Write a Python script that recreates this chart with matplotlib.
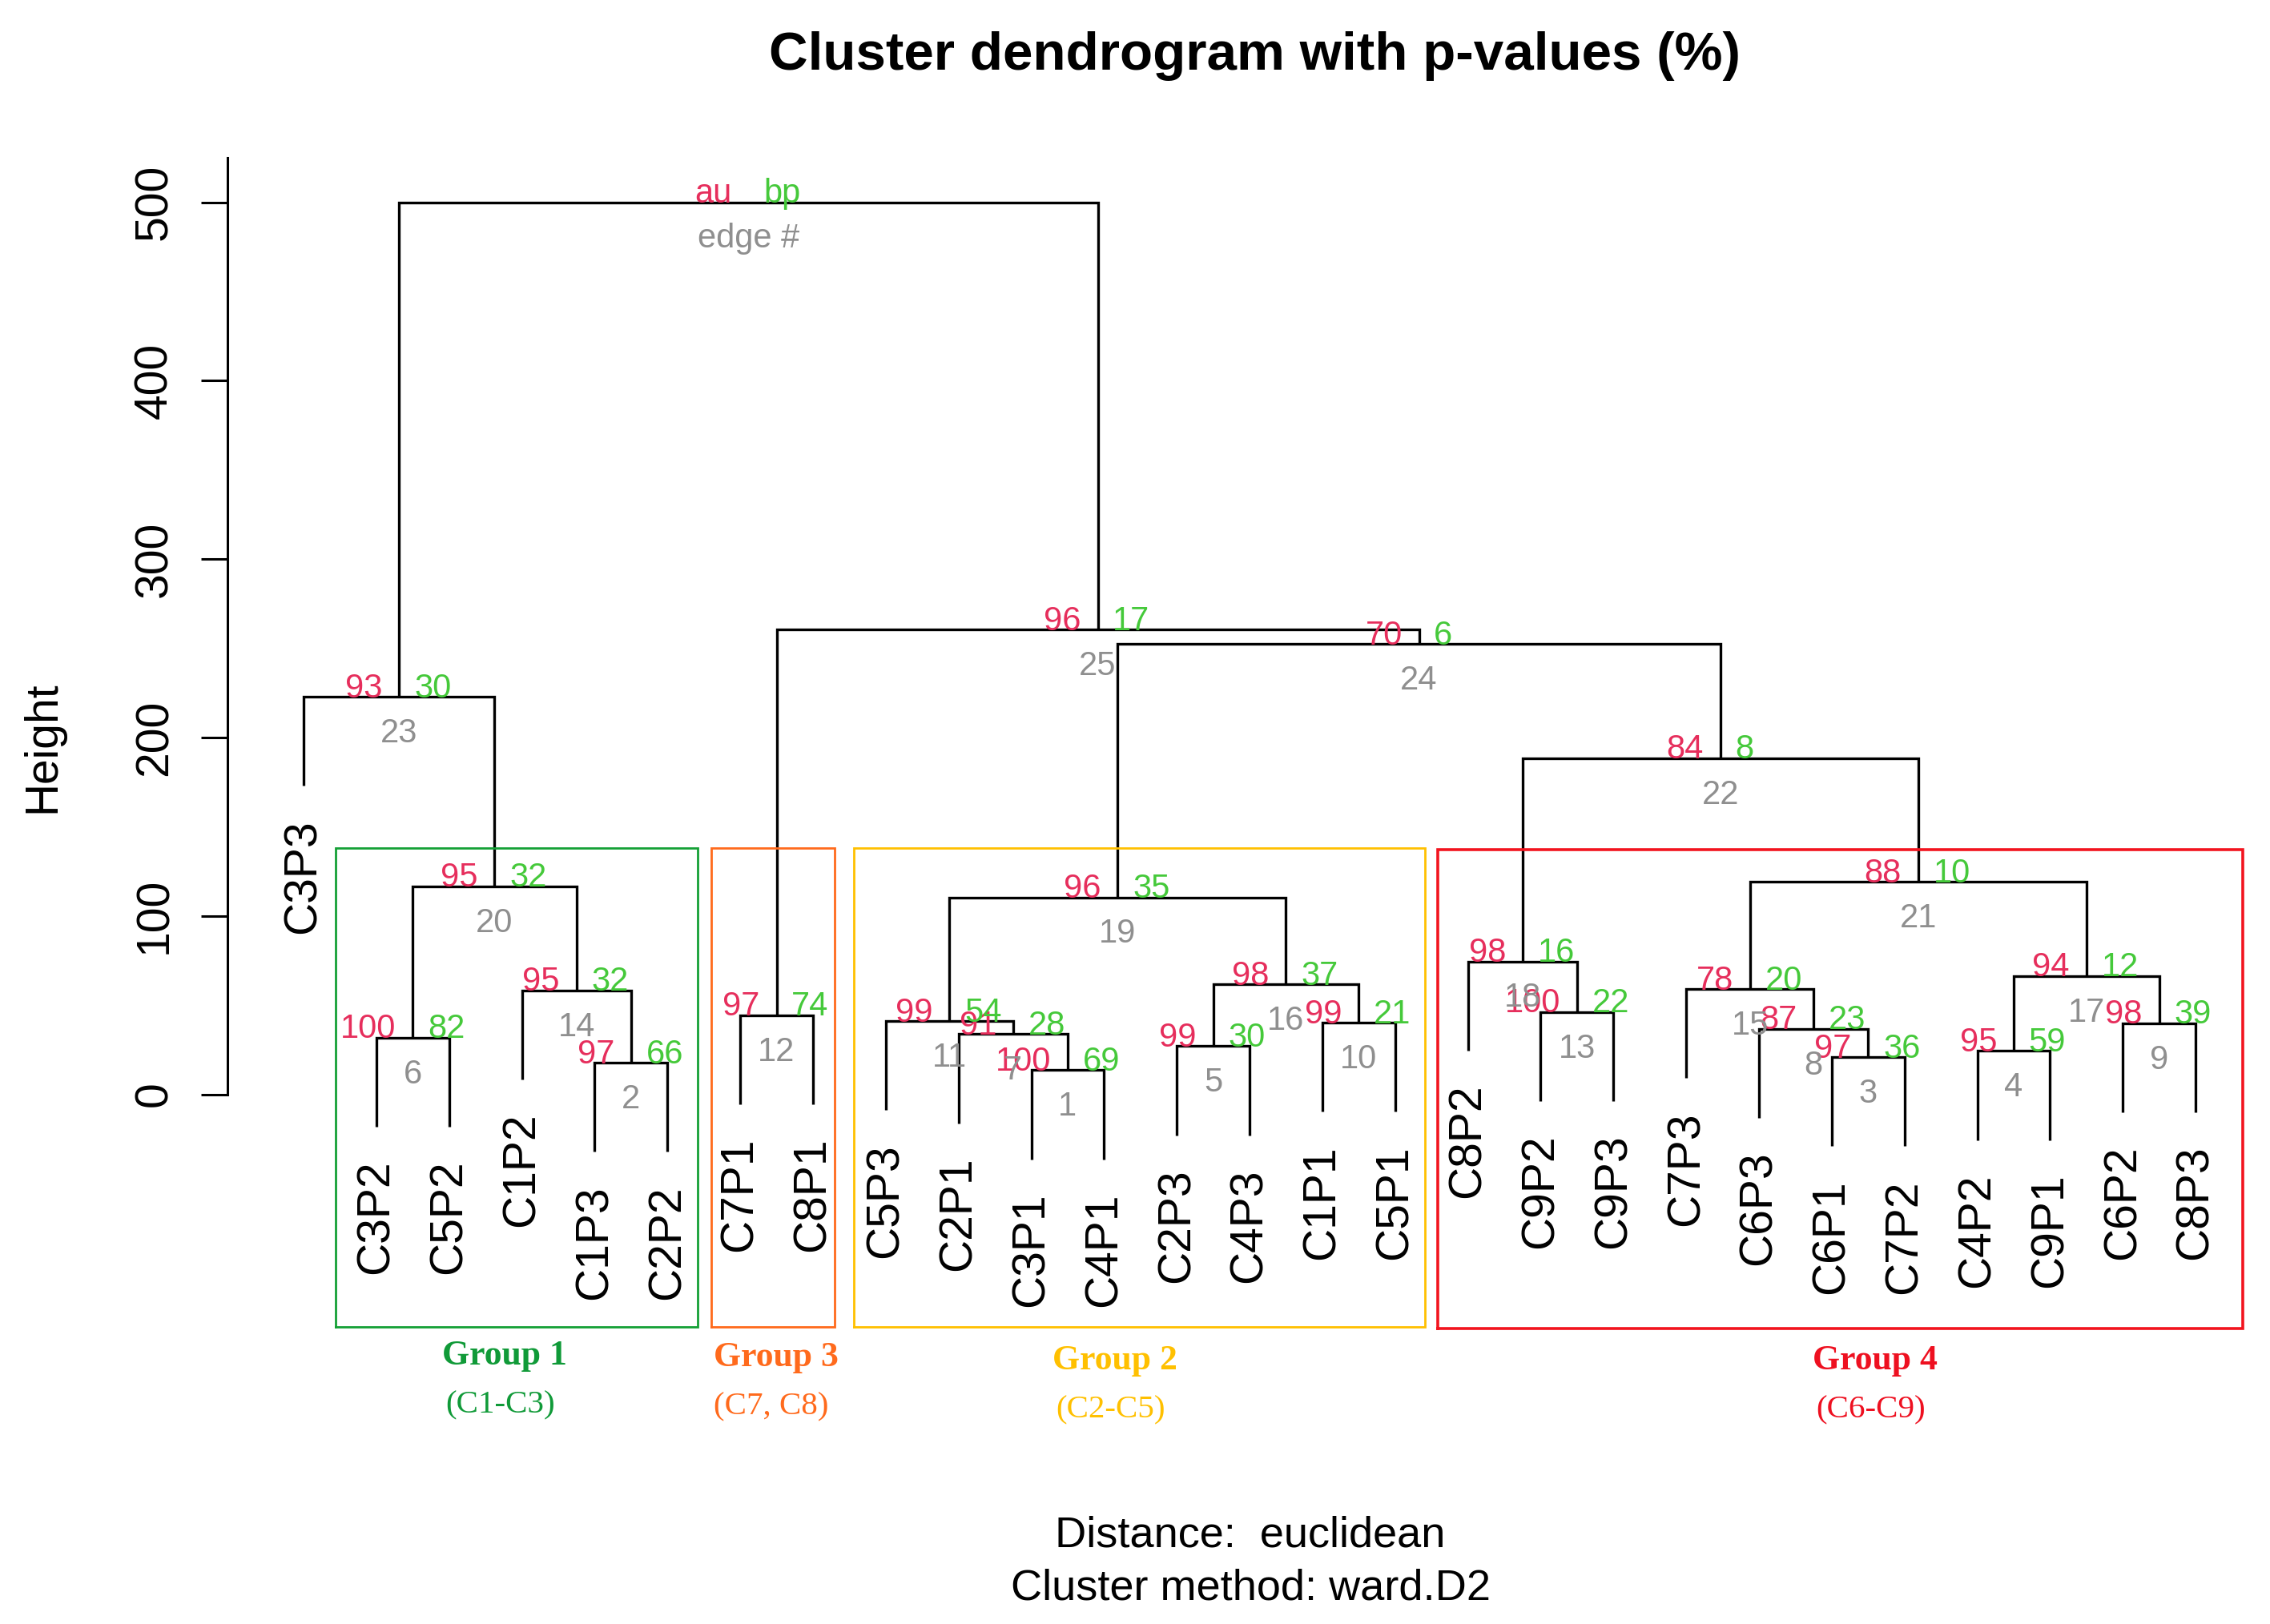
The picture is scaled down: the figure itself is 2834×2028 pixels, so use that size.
import matplotlib
matplotlib.use("Agg")
import matplotlib.pyplot as plt
from matplotlib import font_manager

# ---------------- data ----------------
leaf_labels = ["C3P3", "C3P2", "C5P2", "C1P2", "C1P3", "C2P2", "C7P1", "C8P1",
               "C5P3", "C2P1", "C3P1", "C4P1", "C2P3", "C4P3", "C1P1", "C5P1",
               "C8P2", "C9P2", "C9P3", "C7P3", "C6P3", "C6P1", "C7P2", "C4P2",
               "C9P1", "C6P2", "C8P3"]
# merge k (edge #k): children are leaf names or earlier edge numbers
merge_left = ["C3P1", "C1P3", "C6P1", "C4P2", "C2P3", "C3P2", "C2P1", "C6P3",
              "C6P2", "C1P1", "C5P3", "C7P1", "C9P2", "C1P2", "C7P3", 5, 4,
              "C8P2", 11, 6, 15, 18, "C3P3", 19, 12, 23]
merge_right = ["C4P1", "C2P2", "C7P2", "C9P1", "C4P3", "C5P2", 1, 3, "C8P3",
               "C5P1", 7, "C8P1", "C9P3", 2, 8, 10, 9, 13, 16, 14, 17, 21, 20,
               22, 24, 25]
heights = [13.6, 17.8, 20.9, 24.3, 27.0, 31.8, 33.7, 36.7, 39.9, 40.2, 41.1,
           44.3, 46.1, 58.3, 59.0, 61.6, 66.4, 74.5, 110.4, 116.6, 119.2,
           188.4, 222.9, 252.3, 260.6, 500.0]
au_values = [100, 97, 97, 95, 99, 100, 91, 87, 98, 99, 99, 97, 100, 95, 78,
             98, 94, 98, 96, 95, 88, 84, 93, 70, 96]
bp_values = [69, 66, 36, 59, 30, 82, 28, 23, 39, 21, 54, 74, 22, 32, 20, 37,
             12, 16, 35, 32, 10, 8, 30, 6, 17]
root_labels = ["au", "bp", "edge #"]

y_ticks = [0, 100, 200, 300, 400, 500]

group_names = ["Group 1", "Group 3", "Group 2", "Group 4"]
group_subtitles = ["(C1-C3)", "(C7, C8)", "(C2-C5)", "(C6-C9)"]
group_first_leaf = ["C3P2", "C7P1", "C5P3", "C8P2"]
group_last_leaf = ["C2P2", "C8P1", "C5P1", "C8P3"]

title = "Cluster dendrogram with p-values (%)"
ylabel = "Height"
sub_lines = ["Distance:  euclidean", "Cluster method: ward.D2"]

# ---------------- style / layout ----------------
HANG = 50.0
W, H = 2834, 2028
DPI = 100
group_colors = ["#14A035", "#FF6A1C", "#FFC000", "#F2141E"]
group_text_colors = ["#109A38", "#FF6A1C", "#FFC000", "#EE1020"]
box_pads = [(0.56, 0.42), (0.40, 0.30), (0.44, 0.41), (0.41, 0.65)]
box_lw = [2.0, 2.0, 2.0, 2.6]
box_top, box_bottom = 138.0, -130.5
group_text_x = [3.76, 7.49, 12.15, 22.6]
group_text_y = [-151.5, -152.5, -154.0, -154.0]
group_sub_y = [-178.5, -179.5, -181.5, -181.5]

AU_COL = "#E62E5C"
BP_COL = "#45C93A"
ED_COL = "#8F8F8F"

names = {f.name for f in font_manager.fontManager.ttflist}
BASE_FONT = "Liberation Sans" if "Liberation Sans" in names else "DejaVu Sans"
if "Liberation Sans Narrow" in names:
    PV_FONT, PV_SIZE = "Liberation Sans Narrow", 33
else:
    PV_FONT, PV_SIZE = BASE_FONT, 30
SERIF = "Liberation Serif" if "Liberation Serif" in names else "DejaVu Serif"
BASE_SIZE = 41

plt.rcParams["font.family"] = [BASE_FONT, "DejaVu Sans"]

fig = plt.figure(figsize=(W / DPI, H / DPI), dpi=DPI)

# pixel geometry of the plot region
px_leaf1, px_step = 379.0, 90.85
px_y0, px_per_unit = 1366.5, 2.228
ax_left_px, ax_right_px = 284.0, 2834.0
ylim = (-290.0, 525.0)
ax_top_px = px_y0 - ylim[1] * px_per_unit
ax_bot_px = px_y0 - ylim[0] * px_per_unit
xlim = (1 + (ax_left_px - px_leaf1) / px_step, 1 + (ax_right_px - px_leaf1) / px_step)

ax = fig.add_axes([ax_left_px / W, 1 - ax_bot_px / H,
                   (ax_right_px - ax_left_px) / W, (ax_bot_px - ax_top_px) / H])
ax.set_xlim(*xlim)
ax.set_ylim(*ylim)
for s in ["top", "right", "bottom"]:
    ax.spines[s].set_visible(False)
ax.spines["left"].set_bounds(0, 525)
ax.spines["left"].set_linewidth(2.2)
ax.set_xticks([])
ax.set_yticks(y_ticks)
ax.set_yticklabels([str(t) for t in y_ticks], rotation=90, va="center")
ax.tick_params(axis="y", length=23.8, width=2.2, pad=22, labelsize=BASE_SIZE)

# ---------------- dendrogram ----------------
leaf_x = {lab: i + 1 for i, lab in enumerate(leaf_labels)}
node_x = {}

LW = 2.4
for k in range(len(heights)):
    h = heights[k]
    pts = []
    xs = []
    for c in (merge_left[k], merge_right[k]):
        if isinstance(c, str):
            cx, cy = leaf_x[c], h - HANG
            ax.annotate(c, (cx, cy), xytext=(0, -30), textcoords="offset points",
                        rotation=90, ha="center", va="top", fontsize=BASE_SIZE,
                        color="black", annotation_clip=False)
        else:
            cx, cy = node_x[c], heights[c - 1]
        pts.append((cx, cy))
        xs.append(cx)
    node_x[k + 1] = (xs[0] + xs[1]) / 2.0
    (xl, yl), (xr, yr) = pts
    ax.plot([xl, xl, xr, xr], [yl, h, h, yr], color="black", lw=LW,
            solid_joinstyle="miter", solid_capstyle="butt", clip_on=False)

# p-values and edge numbers
for k in range(len(heights)):
    x, h = node_x[k + 1], heights[k]
    if k < len(au_values):
        a_txt, b_txt, e_txt = str(au_values[k]), str(bp_values[k]), str(k + 1)
    else:
        a_txt, b_txt, e_txt = root_labels
    ax.annotate(a_txt, (x, h), xytext=(-15, -0.5), textcoords="offset points",
                ha="right", va="baseline", color=AU_COL, fontsize=PV_SIZE,
                family=[PV_FONT, "DejaVu Sans"], annotation_clip=False)
    ax.annotate(b_txt, (x, h), xytext=(13.5, -0.5), textcoords="offset points",
                ha="left", va="baseline", color=BP_COL, fontsize=PV_SIZE,
                family=[PV_FONT, "DejaVu Sans"], annotation_clip=False)
    ax.annotate(e_txt, (x, h), xytext=(0, -41), textcoords="offset points",
                ha="center", va="baseline", color=ED_COL, fontsize=PV_SIZE,
                family=[PV_FONT, "DejaVu Sans"], annotation_clip=False)

# ---------------- group boxes ----------------
for g in range(len(group_names)):
    x0 = leaf_x[group_first_leaf[g]] - box_pads[g][0]
    x1 = leaf_x[group_last_leaf[g]] + box_pads[g][1]
    top = box_top - (1.0 if g == 3 else 0.0)
    bot = box_bottom - (1.0 if g == 3 else 0.0)
    ax.plot([x0, x1, x1, x0, x0], [bot, bot, top, top, bot],
            color=group_colors[g], lw=box_lw[g], clip_on=False,
            solid_joinstyle="miter")
    ax.text(group_text_x[g], group_text_y[g], group_names[g], ha="center",
            va="baseline", fontsize=31.5, fontweight="bold", family=SERIF,
            color=group_text_colors[g])
    ax.text(group_text_x[g] - 0.06, group_sub_y[g], group_subtitles[g],
            ha="center", va="baseline", fontsize=29.5, family=SERIF,
            color=group_text_colors[g])

# ---------------- titles ----------------
fig.text(1566 / W, 1 - 87 / H, title, ha="center", va="baseline",
         fontsize=48.5, fontweight="bold")
fig.text(53 / W, 1 - 933 / H, ylabel, ha="center", va="center", rotation=90,
         fontsize=BASE_SIZE)
fig.text(1561 / W, 1 - 1931 / H, sub_lines[0], ha="center", va="baseline",
         fontsize=39)
fig.text(1561 / W, 1 - 1997 / H, sub_lines[1], ha="center", va="baseline",
         fontsize=39)

fig.savefig("out.png", dpi=DPI, facecolor="white")
